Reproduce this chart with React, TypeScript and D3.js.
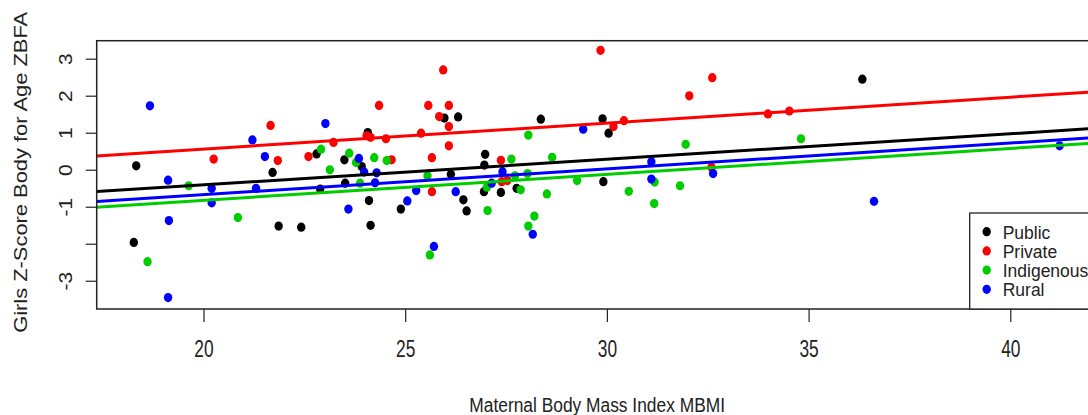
import React from "react";
import * as d3 from "d3";

// ---- Data ----
const publicX = [18.32, 18.26, 21.70, 21.85, 22.41, 22.79, 22.88, 23.48, 23.50, 23.91, 24.06, 24.09, 24.13, 24.88, 25.96, 26.30, 26.12, 26.43, 26.51, 26.97, 26.95, 26.94, 27.36, 27.75, 28.35, 29.88, 30.03, 29.90, 36.32];
const publicY = [0.12, -1.95, -0.06, -1.51, -1.54, 0.44, -0.51, 0.28, -0.35, 0.10, 1.02, -0.82, -1.49, -1.05, 1.41, 1.44, -0.11, -0.80, -1.10, 0.43, 0.14, -0.58, -0.60, -0.49, 1.38, 1.39, 1.00, -0.31, 2.46];

const privateX = [20.24, 21.65, 21.83, 22.59, 23.21, 24.03, 24.13, 24.34, 24.51, 24.65, 25.38, 25.56, 25.65, 25.65, 25.83, 25.93, 26.07, 26.07, 26.07, 27.36, 27.38, 27.52, 29.83, 30.15, 30.41, 32.03, 32.60, 32.58, 33.98, 34.51];
const privateY = [0.30, 1.21, 0.26, 0.37, 0.75, 0.93, 0.89, 1.75, 0.85, 0.28, 1.00, 1.75, 0.34, -0.58, 1.45, 2.71, 1.75, 1.18, 0.66, 0.27, -0.31, -0.28, 3.24, 1.18, 1.34, 2.01, 2.50, 0.08, 1.52, 1.60];

const indigenousX = [18.60, 19.62, 20.84, 22.90, 23.12, 23.60, 23.77, 23.87, 24.22, 24.53, 25.54, 25.60, 27.01, 27.03, 27.62, 27.71, 27.85, 28.02, 28.04, 28.04, 28.19, 28.50, 28.63, 29.25, 30.53, 31.17, 31.16, 31.80, 31.94, 34.80];
const indigenousY = [-2.47, -0.42, -1.28, 0.57, 0.01, 0.46, 0.21, -0.35, 0.34, 0.26, -0.15, -2.29, -0.46, -1.09, 0.30, -0.15, -0.53, -0.09, 0.95, -1.51, -1.24, -0.64, 0.35, -0.28, -0.57, -0.32, -0.90, -0.42, 0.70, 0.85];

const ruralX = [18.66, 19.11, 19.13, 19.11, 20.19, 20.19, 21.20, 21.29, 21.51, 23.01, 23.58, 23.84, 23.97, 24.28, 24.24, 25.04, 25.26, 25.70, 26.24, 27.13, 27.40, 28.15, 29.40, 31.09, 31.09, 32.62, 36.61, 41.21];
const ruralY = [1.74, -0.27, -1.36, -3.44, -0.49, -0.88, 0.82, -0.49, 0.37, 1.26, -1.05, 0.32, -0.05, -0.07, -0.34, -0.83, -0.55, -2.06, -0.58, -0.35, -0.04, -1.73, 1.11, 0.23, -0.24, -0.09, -0.84, 0.66];

const groupNames = ["Public", "Private", "Indigenous", "Rural"];
const groupColors = ["#000000", "#FF0000", "#00CD00", "#0000FF"];
const groupX = [publicX, privateX, indigenousX, ruralX];
const groupY = [publicY, privateY, indigenousY, ruralY];

// fitted lines: intercept and slope
const lineIntercepts = [-1.774, -0.829, -2.215, -2.057];
const lineSlopes = [0.0690, 0.0701, 0.0701, 0.0698];

const xTicks = [20, 25, 30, 35, 40];
const yTicks = [-3, -2, -1, 0, 1, 2, 3];
const yTickLabels = [3, 2, 1, 0, -1, -3];

const xTitle = "Maternal Body Mass Index MBMI";
const yTitle = "Girls Z-Score Body for Age ZBFA";

// ---- Layout ----
const W = 1088;
const H = 415;
const left = 96.7;
const right = 1108;
const top = 40.7;
const bottom = 309;
const FONT = "'Liberation Sans', Arial, sans-serif";

export default function App() {
  const x = d3.scaleLinear().domain([17.34, 42.41]).range([left, right]);
  const y = d3.scaleLinear().domain([-3.75, 3.5]).range([bottom, top]);
  const lineGen = d3
    .line<number>()
    .x((d) => x(d[0]))
    .y((d) => y(d[1]));
  const [d0, d1] = x.domain();

  const legendTop = 213;
  const legendLeft = 969.7;
  const legendRowY = (i: number) => 231.7 + i * 19.2;

  return (
    <svg
      width={W}
      height={H}
      style={{ position: "absolute", left: 0, top: 0, background: "#fff" }}
      fontFamily={FONT}
    >
      <defs>
        <clipPath id="plotclip">
          <rect x={left} y={top} width={right - left} height={bottom - top} />
        </clipPath>
      </defs>
      <rect x={0} y={0} width={W} height={H} fill="#fff" />

      {/* points */}
      <g>
        {groupX.map((xs, gi) =>
          xs.map((xv, i) => (
            <ellipse
              key={`p${gi}-${i}`}
              cx={x(xv)}
              cy={y(groupY[gi][i])}
              rx={4.2}
              ry={4.6}
              fill={groupColors[gi]}
            />
          ))
        )}
      </g>

      {/* regression lines */}
      <g clipPath="url(#plotclip)">
        {lineIntercepts.map((a, gi) => {
          const b = lineSlopes[gi];
          const pts: [number, number][] = [
            [d0, a + b * d0],
            [d1, a + b * d1],
          ];
          return (
            <path
              key={`l${gi}`}
              d={lineGen(pts as any) || ""}
              stroke={groupColors[gi]}
              strokeWidth={3}
              fill="none"
            />
          );
        })}
      </g>

      {/* plot box */}
      <rect
        x={left}
        y={top}
        width={right - left}
        height={bottom - top}
        fill="none"
        stroke="#222"
        strokeWidth={1.5}
      />

      {/* x axis */}
      <g>
        {xTicks.map((t) => (
          <g key={`xt${t}`}>
            <line x1={x(t)} x2={x(t)} y1={bottom} y2={bottom + 13} stroke="#222" strokeWidth={1.2} />
            <text
              x={x(t)}
              y={357}
              fontSize={23}
              textAnchor="middle"
              textLength={19.3}
              lengthAdjust="spacingAndGlyphs"
              fill="#222"
            >
              {t}
            </text>
          </g>
        ))}
        <text
          x={(469.3 + 725) / 2}
          y={411.7}
          fontSize={19.5}
          textAnchor="middle"
          textLength={255.7}
          lengthAdjust="spacingAndGlyphs"
          fill="#222"
        >
          {xTitle}
        </text>
      </g>

      {/* y axis */}
      <g>
        {yTicks.map((t) => (
          <line key={`yt${t}`} x1={left - 11} x2={left} y1={y(t)} y2={y(t)} stroke="#222" strokeWidth={1.2} />
        ))}
        {yTickLabels.map((t) => (
          <text
            key={`yl${t}`}
            transform={`translate(72,${y(t)}) scale(0.9,1) rotate(-90)`}
            fontSize={21}
            textAnchor="middle"
            fill="#222"
          >
            {t}
          </text>
        ))}
        <text
          transform={`translate(27,${(11.7 + 333) / 2}) scale(0.84,1) rotate(-90)`}
          fontSize={21.5}
          textAnchor="middle"
          textLength={321}
          lengthAdjust="spacingAndGlyphs"
          fill="#222"
        >
          {yTitle}
        </text>
      </g>

      {/* legend */}
      <g>
        <rect
          x={legendLeft}
          y={legendTop}
          width={W + 20 - legendLeft}
          height={bottom - legendTop}
          fill="#fff"
          stroke="#222"
          strokeWidth={1.3}
        />
        {groupNames.map((name, i) => (
          <g key={`lg${i}`}>
            <ellipse cx={986.7} cy={legendRowY(i)} rx={4.2} ry={4.6} fill={groupColors[i]} />
            <text
              x={1002.7}
              y={legendRowY(i) + 7}
              fontSize={17.5}
              fill="#222"
            >
              {name}
            </text>
          </g>
        ))}
      </g>
    </svg>
  );
}
